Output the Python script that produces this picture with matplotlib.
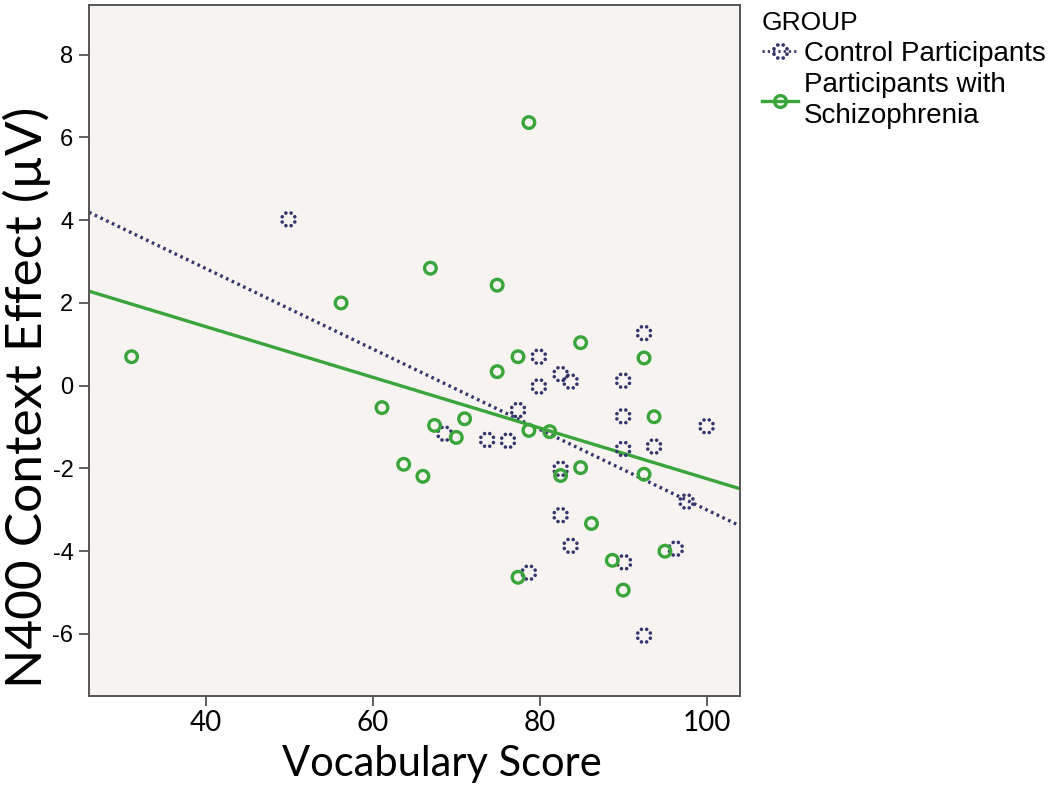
import numpy as np
import matplotlib
matplotlib.use('Agg')
import matplotlib.pyplot as plt
from matplotlib.lines import Line2D
from matplotlib.path import Path

# 对照组 (Control Participants)
ctrl_vocab = [49.9, 92.5, 79.9, 82.5, 83.7, 79.9, 90.0, 77.4, 90.0, 100.0, 68.6, 73.7,
              76.2, 90.0, 93.7, 82.5, 97.6, 82.5, 83.7, 78.7, 90.1, 96.3, 92.5]
ctrl_n400 = [4.02, 1.27, 0.70, 0.28, 0.10, -0.02, 0.12, -0.59, -0.74, -0.98, -1.16, -1.31,
             -1.33, -1.53, -1.47, -2.01, -2.80, -3.13, -3.87, -4.52, -4.27, -3.94, -6.04]

# 精神分裂症组 (Participants with Schizophrenia)
scz_vocab = [31.1, 56.2, 66.9, 78.7, 74.9, 77.4, 74.9, 84.9, 92.5, 61.1, 71.0, 67.4, 70.0,
             78.7, 81.2, 93.7, 63.7, 66.0, 84.9, 82.5, 92.5, 86.2, 88.7, 95.0, 77.4, 90.0]
scz_n400 = [0.70, 2.00, 2.84, 6.36, 2.43, 0.70, 0.34, 1.04, 0.67, -0.53, -0.80, -0.96, -1.25,
            -1.08, -1.11, -0.75, -1.90, -2.19, -1.98, -2.17, -2.14, -3.33, -4.22, -4.00,
            -4.63, -4.94]

x_ticks = [40, 60, 80, 100]
y_ticks = [-6, -4, -2, 0, 2, 4, 6, 8]
xlim = (26, 104)
ylim = (-7.5, 9.2)

ctrl_color = '#36366f'
scz_color = '#3aa53a'
narrow = ['Lato', 'DejaVu Sans']
arial = ['Liberation Sans', 'DejaVu Sans']

# 点状圆圈标记：一圈小圆点
dot = Path.unit_circle()
ring = []
for a in np.linspace(0, 2 * np.pi, 9)[:-1] + np.pi / 8:
    ring.append(Path(dot.vertices * 0.26 + [np.cos(a), np.sin(a)], dot.codes))
dotted_ring = Path.make_compound_path(*ring)

fig = plt.figure(figsize=(10.5, 7.87), dpi=100)
ax = fig.add_axes([0.0848, 0.1156, 0.62, 0.878])
ax.set_facecolor('#f6f3f1')

# 回归线
xs = np.array(xlim, dtype=float)
k1, b1 = np.polyfit(ctrl_vocab, ctrl_n400, 1)
k2, b2 = np.polyfit(scz_vocab, scz_n400, 1)
ax.plot(xs, k1 * xs + b1, color=ctrl_color, lw=2.4, ls=(0, (0.8, 1.1)), zorder=2)
ax.plot(xs, k2 * xs + b2, color=scz_color, lw=2.4, zorder=2)

# 散点
ax.scatter(ctrl_vocab, ctrl_n400, s=135, marker=dotted_ring, facecolors=ctrl_color,
           edgecolors='none', zorder=3)
ax.scatter(scz_vocab, scz_n400, s=70, facecolors='none', edgecolors=scz_color,
           linewidths=2.4, zorder=4)

ax.set_xlim(*xlim)
ax.set_ylim(*ylim)
ax.set_xticks(x_ticks)
ax.set_yticks(y_ticks)
ax.set_xticklabels([str(t) for t in x_ticks], family=narrow, fontsize=20)
ax.set_yticklabels([str(t) for t in y_ticks], family=arial, fontsize=17)
ax.tick_params(direction='out', length=7.2, width=1.2, color='#444444')
ax.tick_params(axis='x', pad=3)
ax.tick_params(axis='y', pad=4)
for sp in ax.spines.values():
    sp.set_color('#555555')
    sp.set_linewidth(1.4)

ax.set_xlabel('Vocabulary Score', family=narrow, fontsize=30, va='baseline')
ax.xaxis.set_label_coords(0.5415, -0.1158)
ax.set_ylabel('N400 Context Effect (µV)', family=narrow, fontsize=37, va='baseline')
ax.yaxis.set_label_coords(-0.072, 0.433)

# 图例
h1 = Line2D([], [], color=ctrl_color, lw=2.0, ls=(0, (0.8, 1.1)), marker=dotted_ring,
            ms=12, mfc=ctrl_color, mec='none')
h2 = Line2D([], [], color=scz_color, lw=2.4, marker='o', ms=8.5, mfc='none',
            mec=scz_color, mew=2.4)
leg = fig.legend([h1, h2], ['Control Participants', 'Participants with\nSchizophrenia'],
                 loc='upper left', bbox_to_anchor=(0.7257, 0.986), frameon=False,
                 title='GROUP', alignment='left', handlelength=1.3, handletextpad=0.2,
                 borderpad=0, borderaxespad=0, labelspacing=0.2,
                 prop={'family': arial, 'size': 20})
leg.get_title().set_fontfamily(arial)
leg.get_title().set_fontsize(19)
for t in leg.get_texts():
    t.set_linespacing(1.25)

fig.savefig('out.png', dpi=100)
